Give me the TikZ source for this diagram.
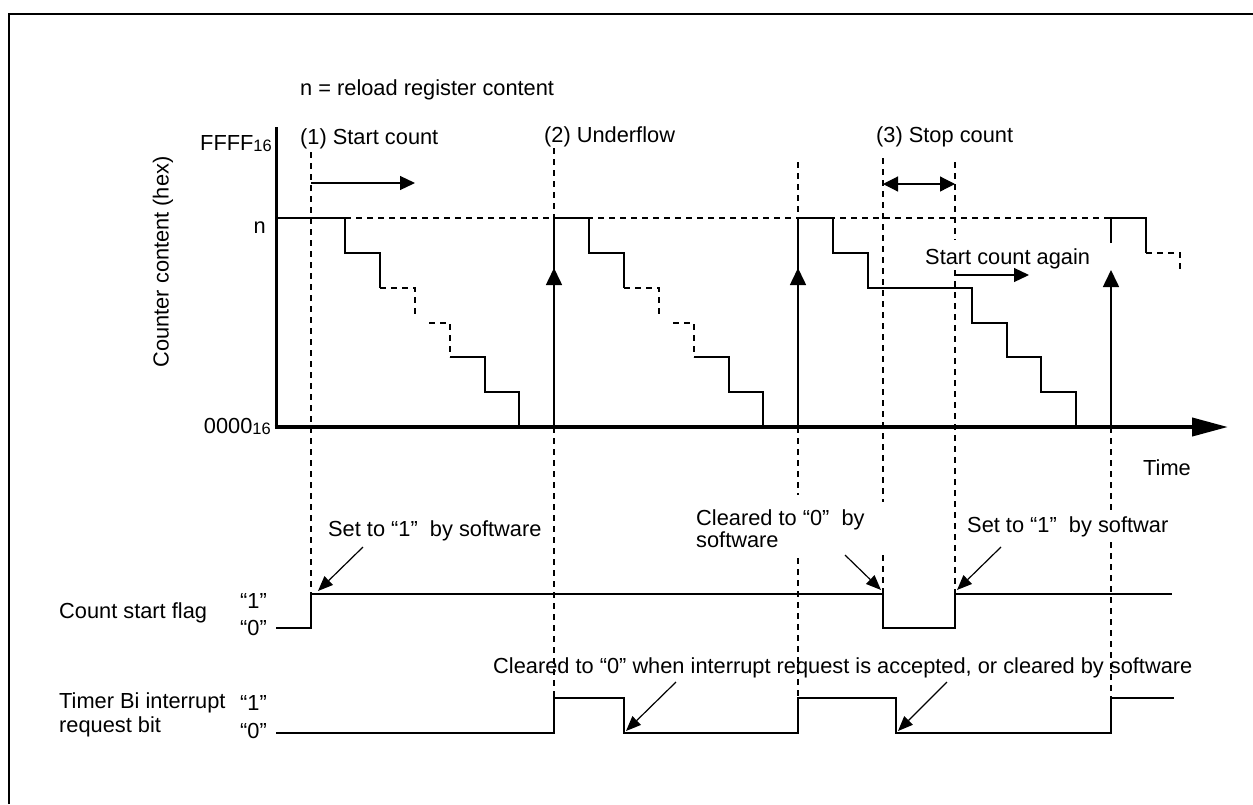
\documentclass[tikz,border=0pt]{standalone}
\usepackage{fontspec}
\setmainfont{Liberation Sans}
\usetikzlibrary{arrows.meta}
\newcommand{\subsc}[1]{\raisebox{-1.5pt}{\fontsize{16.5}{18}\selectfont #1}}
\begin{document}
\begin{tikzpicture}[x=1pt,y=-1pt,
  lbl/.style={inner sep=0pt, font=\fontsize{21.8}{25}\selectfont},
  sig/.style={line width=1.6pt, line join=miter},
  dsh/.style={line width=1.2pt, dash pattern=on 6pt off 5pt},
  lead/.style={line width=1.2pt, -{Triangle[length=15pt,width=12pt]}},
  upar/.style={line width=1.6pt, -{Triangle[length=17pt,width=16pt]}},
  harr/.style={line width=1.2pt, -{Triangle[length=15pt,width=14pt]}},
  dbl/.style={line width=1.2pt, {Triangle[length=15pt,width=15pt]}-{Triangle[length=15pt,width=15pt]}}
]
\useasboundingbox (0,0) rectangle (1253,804);
% frame
\draw[line width=2pt] (9,804) -- (9,14) -- (1253,14);

% guide dashed lines
\draw[dsh] (311,152) -- (311,593);
\draw[dsh] (554,148) -- (554,218);
\draw[dsh] (554,427) -- (554,698);
\draw[dsh] (798,162) -- (798,218);
\draw[dsh] (798,427) -- (798,495);
\draw[dsh] (798,558) -- (798,698);
\draw[dsh] (883,158) -- (883,502);
\draw[dsh] (883,555) -- (883,593);
\draw[dsh] (955,162) -- (955,240);
\draw[dsh] (955,270) -- (955,593);
\draw[dsh] (1111,427) -- (1111,510);
\draw[dsh] (1111,542) -- (1111,698);
\draw[dsh] (345,218) -- (1111,218);

% axes
\draw[line width=3pt] (276,127) -- (276,427);
\draw[line width=4pt, -{Triangle[length=36pt,width=18pt]}] (274.5,427) -- (1228,427);

% cycle 1
\draw[sig] (276,218) -- (345,218) -- (345,253) -- (380,253) -- (380,288);
\draw[dsh] (380,288) -- (415,288) -- (415,316);
\draw[dsh] (429,323) -- (450,323) -- (450,357);
\draw[sig] (450,357) -- (485,357) -- (485,392) -- (519,392) -- (519,427);
% cycle 2
\draw[upar] (554,427) -- (554,268);
\draw[sig] (554,270) -- (554,218) -- (589,218) -- (589,253) -- (624,253) -- (624,288);
\draw[dsh] (624,288) -- (659,288) -- (659,316);
\draw[dsh] (673,323) -- (694,323) -- (694,357);
\draw[sig] (694,357) -- (729,357) -- (729,392) -- (763,392) -- (763,427);
% cycle 3
\draw[upar] (798,427) -- (798,268);
\draw[sig] (798,270) -- (798,218) -- (833,218) -- (833,253) -- (868,253) -- (868,288) -- (972,288) -- (972,323) -- (1007,323) -- (1007,357) -- (1041,357) -- (1041,392) -- (1076,392) -- (1076,427);
% cycle 4
\draw[upar] (1111,427) -- (1111,270);
\draw[sig] (1111,243) -- (1111,218) -- (1146,218) -- (1146,253);
\draw[dsh] (1146,253) -- (1180,253) -- (1180,270);

% arrows in chart
\draw[harr] (311,183) -- (415,183);
\draw[dbl] (883,184) -- (955,184);
\draw[harr] (955,275) -- (1029,275);

% signals
\draw[sig] (276,628) -- (311,628) -- (311,594) -- (883,594) -- (883,628) -- (955,628) -- (955,594) -- (1172,594);
\draw[sig] (276,733) -- (554,733) -- (554,698) -- (624,698) -- (624,733) -- (798,733) -- (798,698) -- (896,698) -- (896,733) -- (1111,733) -- (1111,698) -- (1174,698);

% labels
\node[lbl, anchor=base west] (title) at (300,95) {n = reload register content};
\node[lbl, anchor=base west] (s1) at (300,144) {(1) Start count};
\node[lbl, anchor=base west] (s2) at (544,142) {(2) Underflow};
\node[lbl, anchor=base west] (s3) at (876,142) {(3) Stop count};
\node[lbl, anchor=base east] (ffff) at (272,150) {FFFF\subsc{16}};
\node[lbl, anchor=base east] (nl) at (266,233) {n};
\node[lbl, anchor=base east] (zero) at (271,433) {0000\subsc{16}};
\node[lbl, rotate=90] (ylab) at (163,262) {Counter content (hex)};
\node[lbl, anchor=base west] (again) at (925,264) {Start count again};
\node[lbl, anchor=base west] (time) at (1143,475) {Time};
\node[lbl, anchor=base west] (set1) at (328,536) {Set to “1”~~by software};
\node[lbl, anchor=base west] (clrA) at (696,525) {Cleared to “0”~~by};
\node[lbl, anchor=base west] (clrB) at (696,547) {software};
\node[lbl, anchor=base west] (set2) at (967,532) {Set to “1”~~by softwar};
\node[lbl, anchor=base west] (clr2) at (493,673) {Cleared to “0” when interrupt request is accepted, or cleared by software};
\node[lbl, anchor=base west] (csf) at (59,618) {Count start flag};
\node[lbl, anchor=base west] (f1) at (240,608) {“1”};
\node[lbl, anchor=base west] (f0) at (240,635) {“0”};
\node[lbl, anchor=base west] (tb1) at (59,708) {Timer Bi interrupt};
\node[lbl, anchor=base west] (tb2) at (59,732) {request bit};
\node[lbl, anchor=base west] (i1) at (240,710) {“1”};
\node[lbl, anchor=base west] (i0) at (240,738) {“0”};

% leaders
\coordinate (l1s) at (363,547); \coordinate (l1e) at (318,591);
\coordinate (l2s) at (845,555); \coordinate (l2e) at (881,590);
\coordinate (l3s) at (1001,547); \coordinate (l3e) at (957,590);
\coordinate (l4s) at (676,682); \coordinate (l4e) at (626,731);
\coordinate (l5s) at (947,682); \coordinate (l5e) at (898,731);
\draw[lead] (l1s) -- (l1e);
\draw[lead] (l2s) -- (l2e);
\draw[lead] (l3s) -- (l3e);
\draw[lead] (l4s) -- (l4e);
\draw[lead] (l5s) -- (l5e);
\end{tikzpicture}
\end{document}
